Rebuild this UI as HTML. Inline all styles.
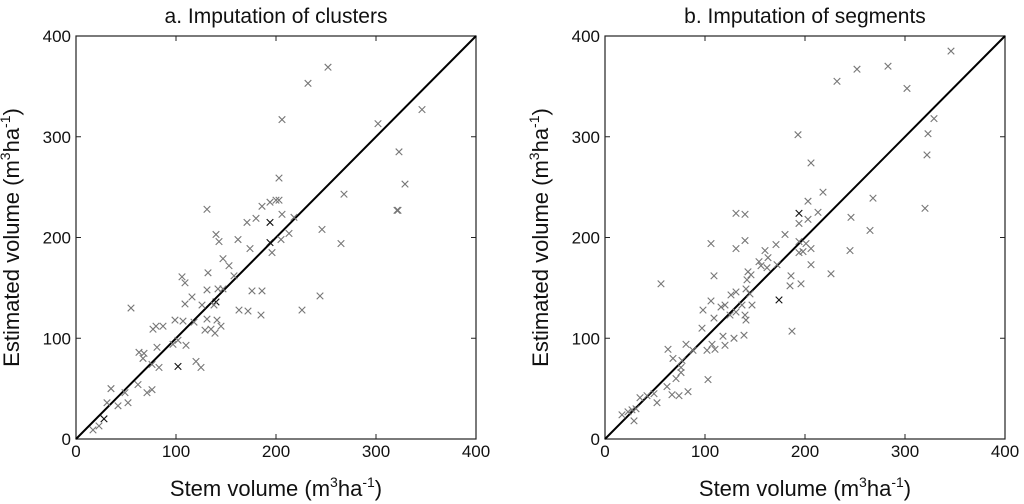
<!DOCTYPE html>
<html><head><meta charset="utf-8"><style>
body{margin:0;background:#fff;}
svg{display:block;font-family:"Liberation Sans",sans-serif;}
</style></head><body>
<svg id="chart" width="1024" height="504"></svg>
<script>
const ticks=[0,100,200,300,400];
const tickLabels=["0","100","200","300","400"];
const clusterX=[17,23,28,31,35,42,49,52,62,71,76,55,63,68,67,76,81,83,77,80,87,97,102,110,102,120,125,99,107,118,129,131,141,145,135,139,109,116,126,131,140,138,142,147,106,109,132,147,153,158,131,140,143,162,174,171,180,186,194,200,203,203,194,194,196,206,205,213,218,176,186,163,172,185,206,232,252,226,244,246,265,268,302,323,329,321,322,346];
const clusterY=[9,13,20,36,50,33,46,36,54,46,49,130,86,85,80,74,91,71,109,112,112,94,98,93,72,77,71,118,117,116,108,119,118,112,109,105,134,141,133,148,136,133,149,149,161,155,165,179,172,162,228,203,196,198,189,215,219,231,235,237,237,259,215,195,185,223,198,204,220,147,147,128,127,123,317,353,369,128,142,208,194,243,313,285,253,227,227,327];
const segX=[17,23,29,27,31,35,42,49,52,62,67,74,83,68,71,76,76,77,63,81,88,56,97,102,107,110,103,98,106,109,118,120,129,139,116,120,126,131,125,131,137,140,141,147,145,141,142,143,146,154,156,160,163,172,162,106,109,131,140,131,140,171,180,174,186,185,196,187,194,194,194,194,198,201,203,203,206,206,213,218,206,193,226,245,246,265,268,232,252,283,302,323,322,320,329,346];
const segY=[24,27,18,29,30,41,43,45,36,52,44,43,47,80,60,66,71,78,89,94,88,154,110,88,94,89,59,128,137,120,102,93,100,103,131,133,143,146,123,126,133,123,118,133,144,149,158,166,163,176,172,187,180,173,170,194,162,189,197,224,223,193,203,138,162,152,154,107,224,214,196,185,186,194,218,236,189,173,225,245,274,302,164,187,220,207,239,355,367,370,348,303,282,229,318,385];
const clusterDark=[2,24,40,62,63];
const segDark=[63,68];

const NS="http://www.w3.org/2000/svg";
const svg=document.getElementById('chart');
function mk(t,a,p){const e=document.createElementNS(NS,t);for(const k in a)e.setAttribute(k,a[k]);(p||svg).appendChild(e);return e;}

function panel(x0,title,xs,ys,dark,name){
  const y0=439,w=400,h=403;
  const sx=v=>x0+v/400*w, sy=v=>y0-v/400*h;
  const g=mk('g',{});
  
  
  const t=mk('text',{x:x0+w/2,y:23,'text-anchor':'middle','font-size':21,fill:'#111'},g);
  t.textContent=title;
  
  
  const box=mk('rect',{x:x0,y:y0-h,width:w,height:h,fill:'none',stroke:'#222','stroke-width':1.2},g);
  
  
  ticks.forEach((v,i)=>{
    mk('line',{x1:sx(v),x2:sx(v),y1:y0,y2:y0-5,stroke:'#222'},g);
    mk('line',{x1:sx(v),x2:sx(v),y1:y0-h,y2:y0-h+5,stroke:'#222'},g);
    mk('line',{x1:x0,x2:x0+5,y1:sy(v),y2:sy(v),stroke:'#222'},g);
    mk('line',{x1:x0+w,x2:x0+w-5,y1:sy(v),y2:sy(v),stroke:'#222'},g);
    const xl=mk('text',{x:sx(v),y:457,'text-anchor':'middle','font-size':17,fill:'#111'},g);
    xl.textContent=tickLabels[i];
    
    
    const yl=mk('text',{x:x0-5,y:sy(v)+6,'text-anchor':'end','font-size':17,fill:'#111'},g);
    yl.textContent=tickLabels[i];
    
    
  });
  const ln=mk('line',{x1:sx(0),y1:sy(0),x2:sx(400),y2:sy(400),stroke:'#000','stroke-width':2},g);
  
  
  xs.forEach((v,i)=>{
    const cx=sx(v),cy=sy(ys[i]),r=3.3;
    const c=dark.includes(i)?'#111':'#777';
    const m=mk('path',{d:`M${cx-r},${cy-r}L${cx+r},${cy+r}M${cx-r},${cy+r}L${cx+r},${cy-r}`,stroke:c,'stroke-width':1.1,fill:'none'},g);
    
    
  });
  const xt=mk('text',{x:x0+w/2,y:496,'text-anchor':'middle','font-size':22,fill:'#111'},g);
  xt.innerHTML='Stem volume (m<tspan dy="-9" font-size="14">3</tspan><tspan dy="9">ha</tspan><tspan dy="-9" font-size="14">-1</tspan><tspan dy="9">)</tspan>';
  
  
  const yt=mk('text',{x:0,y:0,'text-anchor':'middle','font-size':22,fill:'#111',transform:`translate(${x0-57},${y0-h/2}) rotate(-90)`},g);
  yt.innerHTML='Estimated volume (m<tspan dy="-9" font-size="14">3</tspan><tspan dy="9">ha</tspan><tspan dy="-9" font-size="14">-1</tspan><tspan dy="9">)</tspan>';
  
  
}
panel(76,'a. Imputation of clusters',clusterX,clusterY,clusterDark,'panel-clusters');
panel(605,'b. Imputation of segments',segX,segY,segDark,'panel-segments');
</script>
</body></html>
